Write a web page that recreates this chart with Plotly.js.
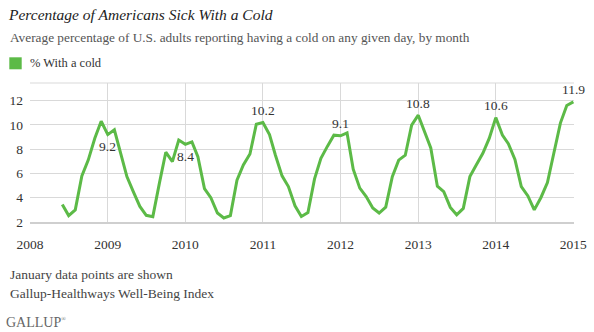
<!DOCTYPE html>
<html>
<head>
<meta charset="utf-8">
<script src="https://cdn.plot.ly/plotly-3.0.1.min.js"></script>
<style>
html, body { margin: 0; padding: 0; background: #ffffff; }
#chart { width: 594px; height: 332px; }
</style>
</head>
<body>
<div id="chart"></div>
<script>
// ---- Data ----
const months = [
  "2008-06","2008-07","2008-08","2008-09","2008-10","2008-11","2008-12",
  "2009-01","2009-02","2009-03","2009-04","2009-05","2009-06","2009-07","2009-08","2009-09","2009-10","2009-11","2009-12",
  "2010-01","2010-02","2010-03","2010-04","2010-05","2010-06","2010-07","2010-08","2010-09","2010-10","2010-11","2010-12",
  "2011-01","2011-02","2011-03","2011-04","2011-05","2011-06","2011-07","2011-08","2011-09","2011-10","2011-11","2011-12",
  "2012-01","2012-02","2012-03","2012-04","2012-05","2012-06","2012-07","2012-08","2012-09","2012-10","2012-11","2012-12",
  "2013-01","2013-02","2013-03","2013-04","2013-05","2013-06","2013-07","2013-08","2013-09","2013-10","2013-11","2013-12",
  "2014-01","2014-02","2014-03","2014-04","2014-05","2014-06","2014-07","2014-08","2014-09","2014-10","2014-11","2014-12",
  "2015-01"
];
const pctWithCold = [
  3.45, 2.53, 3.0, 5.8, 7.1, 8.9, 10.3,
  9.2, 9.6, 7.8, 5.74, 4.5, 3.28, 2.55, 2.44, 5.2, 7.75, 6.97, 8.75,
  8.4, 8.6, 7.38, 4.75, 4.0, 2.74, 2.33, 2.53, 5.45, 6.7, 7.6, 10.05,
  10.2, 9.2, 7.5, 5.8, 4.92, 3.33, 2.46, 2.78, 5.55, 7.25, 8.25, 9.15,
  9.1, 9.34, 6.35, 4.79, 4.1, 3.15, 2.74, 3.22, 5.74, 7.1, 7.5, 9.98,
  10.8, 9.43, 8.1, 4.95, 4.5, 3.2, 2.6, 3.12, 5.74, 6.7, 7.66, 8.89,
  10.6, 9.16, 8.45, 7.15, 4.92, 4.15, 3.0, 4.0, 5.25, 7.66, 10.15, 11.6,
  11.9
];
const yearTicks = ["2008","2009","2010","2011","2012","2013","2014","2015"];
const yTicks = [2, 4, 6, 8, 10, 12];
const seriesName = "% With a cold";
const titleText = "Percentage of Americans Sick With a Cold";
const subtitleText = "Average percentage of U.S. adults reporting having a cold on any given day, by month";
const noteLines = ["January data points are shown", "Gallup-Healthways Well-Being Index"];

// ---- Style ----
const GREEN = "#5cba47";
const GRID = "#d9d9d9";
const SERIF = "Liberation Serif";
// label placement for January points (style only), in order of occurrence
const janLabelShift = [-12, -12, 12, 12, 12, 12, 12];

// Build January labels from the data
const labelAnn = [];
let k = 0;
months.forEach((m, i) => {
  if (m.endsWith("-01")) {
    const sh = janLabelShift[k] !== undefined ? janLabelShift[k] : 12;
    labelAnn.push({
      x: m, y: pctWithCold[i], xref: "x", yref: "y",
      text: pctWithCold[i].toFixed(1), showarrow: false,
      yshift: sh, xanchor: "center", yanchor: "middle",
      font: { family: SERIF, size: 13.5, color: "#333333" }
    });
    k++;
  }
});

const L = 30, R = 20, T = 83, B = 110;
const PW = 594 - L - R, PH = 332 - T - B;
const px = x => (x - L) / PW;
const py = y => (332 - B - y) / PH;

const trace = {
  x: months, y: pctWithCold, type: "scatter", mode: "lines",
  name: seriesName,
  line: { color: GREEN, width: 3, shape: "linear" },
  hoverinfo: "x+y", showlegend: false
};

const layout = {
  width: 594, height: 332,
  margin: { l: L, r: R, t: T, b: B, pad: 0 },
  paper_bgcolor: "#ffffff", plot_bgcolor: "#ffffff",
  font: { family: SERIF, size: 13, color: "#333333" },
  title: {
    text: titleText,
    x: 9 / 594, xref: "container", xanchor: "left",
    y: 1 - 15 / 332, yref: "container", yanchor: "middle",
    font: { family: SERIF, size: 15.5, color: "#222222", style: "italic" }
  },
  showlegend: false,
  xaxis: {
    type: "date",
    range: ["2008-01-01", "2015-01-04"],
    tickvals: yearTicks.map(y => y + "-01-01"),
    ticktext: yearTicks,
    showgrid: true, gridcolor: GRID, gridwidth: 1,
    showline: true, linecolor: "#cfcfcf", linewidth: 2,
    ticks: "", ticklabelstandoff: 9,
    tickfont: { family: SERIF, size: 13.5, color: "#333333" },
    zeroline: false, fixedrange: true
  },
  yaxis: {
    range: [2, 13.45],
    tickvals: yTicks,
    showgrid: true, gridcolor: GRID, gridwidth: 1,
    showline: false, zeroline: false,
    ticks: "", ticklabelstandoff: 6,
    tickfont: { family: SERIF, size: 13.5, color: "#333333" },
    fixedrange: true
  },
  shapes: [
    { type: "line", xref: "paper", yref: "paper", x0: 0, x1: 1, y0: 1, y1: 1,
      line: { color: GRID, width: 1 } },
    { type: "rect", xref: "paper", yref: "paper",
      x0: px(9.3), x1: px(21.7), y0: py(69.3), y1: py(57.3),
      fillcolor: GREEN, line: { width: 0 } }
  ],
  annotations: [
    { text: subtitleText, xref: "paper", yref: "paper", x: px(8), y: py(37),
      xanchor: "left", yanchor: "middle", showarrow: false,
      font: { family: SERIF, size: 13.3, color: "#555555" } },
    { text: seriesName, xref: "paper", yref: "paper", x: px(28), y: py(63.3),
      xanchor: "left", yanchor: "middle", showarrow: false,
      font: { family: SERIF, size: 12.5, color: "#333333" } },
    { text: noteLines[0], xref: "paper", yref: "paper", x: px(8), y: py(274.5),
      xanchor: "left", yanchor: "middle", showarrow: false,
      font: { family: SERIF, size: 13.5, color: "#444444" } },
    { text: noteLines[1], xref: "paper", yref: "paper", x: px(8), y: py(293.7),
      xanchor: "left", yanchor: "middle", showarrow: false,
      font: { family: SERIF, size: 13.5, color: "#444444" } },
    { text: "GALLUP<sup><span style=\"font-size:6px\">®</span></sup>", xref: "paper", yref: "paper", x: px(4), y: py(322),
      xanchor: "left", yanchor: "middle", showarrow: false,
      font: { family: SERIF, size: 14, color: "#666666" } }
  ].concat(labelAnn)
};

Plotly.newPlot("chart", [trace], layout, { displayModeBar: false, staticPlot: true });
</script>
</body>
</html>
